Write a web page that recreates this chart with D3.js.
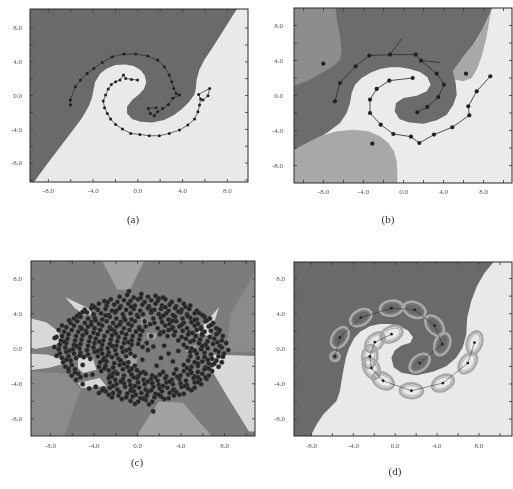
<!DOCTYPE html>
<html>
<head>
<meta charset="utf-8">
<script src="https://cdn.jsdelivr.net/npm/d3@7"></script>
<style>body{margin:0;background:#fff}</style>
</head>
<body>
<script>
// ---- shared labels ----
const tickValues = [-8, -4, 0, 4, 8];
const panelNames = ["(a)", "(b)", "(c)", "(d)"];

// ---- panel (a): two spirals + light class region ----
const aDarkSpiral = [[-5.99,-1.18],[-5.99,-0.59],[-5.54,0.99],[-5.09,1.78],[-4.49,2.57],[-3.89,3.16],[-3.14,3.87],[-2.23,4.54],[-1.19,4.86],[-0.14,4.86],[0.92,4.62],[1.82,4.15],[2.41,3.36],[2.86,2.37],[3.08,1.58],[3.26,0.79],[3.47,0.2],[3.77,0],[3.17,-0.39],[2.78,-1.11],[2.27,-1.58],[1.82,-1.97],[1.52,-2.45],[1.16,-2.17],[0.98,-1.58],[1.67,-1.5]];
const aLightSpiral = [[0.02,1.78],[-0.52,1.86],[-1.04,1.97],[-1.24,2.37],[-1.55,1.78],[-1.94,1.58],[-2.33,1.26],[-2.6,0.71],[-2.84,0],[-3.05,-0.71],[-2.93,-1.5],[-2.69,-2.17],[-2.39,-2.84],[-1.94,-3.48],[-1.33,-4.03],[-0.59,-4.54],[0.23,-4.66],[1.07,-4.82],[1.97,-4.82],[2.86,-4.54],[3.77,-4.15],[4.52,-3.55],[5.12,-2.84],[5.42,-1.97],[5.57,-1.18],[5.66,-0.47],[5.48,0.08],[6.47,0.79],[6.32,-0.08],[5.87,-0.59]];
const aLightRegion = [[-9.4,-10.6],[-8.58,-9.08],[-7.68,-7.5],[-6.77,-5.92],[-5.87,-4.35],[-4.97,-2.76],[-4.37,-1.38],[-4.07,-0.39],[-3.92,0.59],[-3.77,1.58],[-3.32,2.57],[-2.72,3.16],[-1.96,3.55],[-1.06,3.63],[-0.32,3.44],[0.29,2.96],[0.68,2.29],[0.8,1.5],[0.59,0.71],[0.14,0.08],[-0.47,-0.59],[-0.92,-1.38],[-0.92,-2.17],[-0.47,-2.84],[0.29,-3.16],[1.34,-3.24],[2.39,-2.96],[3.29,-2.37],[4.04,-1.58],[4.64,-0.79],[5.09,0],[5.24,0.79],[5.3,1.78],[5.54,2.96],[5.99,4.15],[6.59,5.33],[7.34,6.91],[8.09,8.49],[8.85,10.07],[9.2,10.8],[10.5,10.8],[10.5,-10.6]];

// ---- panel (b) ----
const bDarkSpiral = [[-6.8,-0.72],[-6.3,1.37],[-4.73,3.28],[-3.37,4.5],[-1.3,4.61],[1.27,4.61],[1.8,3.92],[3.37,2.44],[4.1,1.18],[3.53,-0.23],[2.43,-1.37],[1.43,-1.98]];
const bDarkSpurs = [[4, [-0.13,6.44]], [6, [3.7,3.73]]];
const bLightSpiral = [[0.97,1.94],[-1.37,1.64],[-2.63,0.69],[-3.3,-0.53],[-3.3,-2.06],[-2.23,-3.39],[-0.97,-4.46],[0.8,-4.76],[1.63,-5.49],[3.1,-4.53],[4.93,-3.69],[6.63,-2.32],[6.53,-1.29],[7.37,0.42],[8.73,2.13]];
const bOutliers = [[-7.97,3.58],[6.3,2.44],[-3.07,-5.57]];
const bRegions = [
  [[-11.5,10.5],[9.1,10.5],[8.7,9.37],[8.03,7.66],[7.03,5.75],[5.87,3.85],[5.03,2.71],[5.27,1.37],[5.37,0.04],[5.03,-1.11],[4.37,-2.25],[3.37,-2.89],[2.03,-3.28],[0.53,-3.12],[-0.37,-2.74],[-0.83,-1.87],[-0.7,-0.91],[0.03,-0.34],[1.37,-0.08],[2.37,0.42],[2.77,1.18],[2.43,2.06],[1.7,2.63],[0.7,2.97],[-0.3,3.16],[-1.3,3.16],[-2.3,2.97],[-3.3,2.51],[-4.13,1.94],[-4.8,1.18],[-5.13,0.23],[-5.3,-0.91],[-5.63,-2.06],[-6.3,-3.2],[-7.63,-4.34],[-9.3,-5.49],[-11.5,-6.9]],
  [[-11.5,10.5],[-6.8,10.5],[-6.63,8.61],[-6.3,6.7],[-6.13,5.18],[-6.3,4.04],[-6.97,3.28],[-8.13,2.51],[-9.3,1.75],[-11.5,0.8]],
  [[-11.5,-6.63],[-9.97,-5.68],[-8.3,-4.72],[-6.63,-4.15],[-4.97,-3.96],[-3.47,-4.15],[-2.3,-4.72],[-1.47,-5.49],[-0.9,-6.43],[-0.63,-7.58],[-0.57,-8.91],[-0.57,-10.5],[-11.5,-10.5]],
  [[4.97,2.71],[6.03,4.42],[7.37,6.29],[8.37,8.61],[8.87,9.75],[8.7,8.99],[8.37,6.7],[7.87,4.42],[7.37,2.89],[6.87,1.94],[6.03,1.56],[5.2,1.75]]
];
const bRegionShade = [1, 2, 3, 3];

// ---- panel (c) ----
const cRegions = [
  [[-3.43,10.5],[0.86,10.5],[-0.67,6.7],[-1.81,6.7]],
  [[11.2,9.5],[8.55,3.8],[8.25,-0.4],[11.2,-0.4]],
  [[-10.2,-2.6],[-6.5,-2.9],[-5.2,-4.7],[-6.8,-10.5],[-10.2,-10.5]],
  [[-0.3,-10.5],[7.2,-10.5],[4.2,-6.2],[2.0,-6.1]],
  [[-6.59,5.83],[-4.51,4.61],[-4.05,3.84],[-4.81,3.77],[-5.73,4.61]],
  [[-10.2,3.54],[-8.34,2.98],[-7.26,1.94],[-6.9,0.98],[-7.57,0.34],[-10.2,-0.27]],
  [[-10.2,-0.54],[-8.18,-0.73],[-6.96,-1.22],[-6.8,-1.79],[-8.18,-2.25],[-10.2,-2.56]],
  [[-5.43,-1.11],[-4.05,-1.11],[-3.74,-2.45],[-4.97,-2.82],[-5.43,-2.25]],
  [[-5.43,-3.97],[-3.43,-3.39],[-2.82,-4.34],[-5.12,-4.54]],
  [[5.45,1.75],[7.54,4.69],[6.69,1.37]],
  [[6.7,-1.5],[7.1,-0.7],[11.2,-0.9],[11.2,-9.5],[10.3,-9.5],[8.4,-5.7],[7.0,-2.8]],
  [[0.4,3.4],[1.0,3.4],[1.05,2.8],[0.4,2.8]],
  [[0.9,1.8],[1.8,1.7],[1.7,1.0],[0.9,1.1]],
  [[4.5,0.4],[5.5,0.35],[5.4,-0.4],[4.5,-0.4]],
  [[-1.0,-0.6],[0.1,-0.85],[-0.15,-2.1],[-1.0,-1.8]]
];
const cRegionShade = [2, 1, 1, 2, 3, 3, 3, 3, 3, 3, 3, 2, 2, 2, 2];
const cPoints = [
  [-0.74,6.51],[-1.6,5.9],[-0.9,6.1],[-0.3,5.8],[0.4,6.2],[1.0,5.9],[1.7,6.0],[2.4,5.8],
  [-3.0,5.4],[-2.4,5.6],[-1.8,5.3],[-1.2,5.5],[-0.6,5.4],[0.1,5.6],[0.7,5.3],[1.3,5.5],[1.9,5.4],[2.6,5.6],[3.2,5.3],[3.9,5.5],
  [-4.1,4.9],[-3.5,5.1],[-2.8,4.9],[-2.1,5.0],[-1.5,4.8],[-0.8,5.1],[-0.2,4.9],[0.5,5.0],[1.1,4.8],[1.7,5.1],[2.3,4.9],[3.0,5.0],[3.6,4.8],[4.3,5.1],[4.9,4.9],
  [-4.8,4.4],[-4.2,4.6],[-3.6,4.4],[-2.9,4.5],[-2.3,4.3],[-1.6,4.6],[-1.0,4.4],[-0.3,4.5],[0.3,4.3],[1.0,4.6],[1.6,4.4],[2.2,4.5],[2.9,4.3],[3.5,4.6],[4.1,4.4],[4.8,4.5],[5.5,4.3],
  [-5.3,3.9],[-4.6,4.1],[-4.0,3.9],[-3.3,4.0],[-2.6,3.8],[-2.0,4.1],[-1.3,3.9],[-0.6,4.0],[0.0,3.8],[1.3,4.1],[2.0,3.9],[2.7,4.0],[3.3,3.8],[4.0,4.1],[4.6,3.9],[5.3,4.0],[6.0,3.8],
  [-5.8,3.4],[-5.2,3.6],[-4.5,3.4],[-3.9,3.5],[-3.2,3.3],[-2.5,3.6],[-1.9,3.4],[-1.2,3.5],[-0.5,3.3],[0.1,3.6],[1.5,3.4],[2.2,3.5],[2.9,3.3],[3.5,3.6],[4.2,3.4],[4.9,3.5],[5.5,3.3],[6.2,3.6],[6.7,3.4],
  [-6.1,2.9],[-5.5,3.1],[-4.8,2.9],[-4.2,3.0],[-3.5,2.8],[-2.8,3.1],[-2.2,2.9],[-1.5,3.0],[-0.8,2.8],[-0.2,3.1],[0.71,3.08],[1.6,2.9],[2.3,3.0],[3.0,2.8],[3.6,3.1],[4.3,2.9],[5.0,3.0],[5.6,2.8],[6.3,3.1],[7.0,2.9],
  [-6.5,2.4],[-5.8,2.6],[-5.2,2.4],[-4.5,2.5],[-3.9,2.3],[-3.2,2.6],[-2.5,2.4],[-1.9,2.5],[-1.2,2.3],[-0.5,2.6],[0.2,2.4],[0.8,2.5],[1.9,2.3],[2.6,2.6],[3.3,2.4],[3.9,2.5],[4.6,2.3],[5.3,2.6],[5.9,2.4],[6.6,2.5],[7.3,2.3],
  [-6.7,1.9],[-6.0,2.1],[-5.4,1.9],[-4.7,2.0],[-4.0,1.8],[-3.4,2.1],[-2.7,1.9],[-2.1,2.0],[-1.4,1.8],[-0.7,2.1],[-0.1,1.9],[0.5,2.0],[2.2,1.8],[2.9,2.1],[3.5,1.9],[4.2,2.0],[4.8,1.8],[5.5,2.1],[6.2,1.9],[6.8,2.0],[7.5,1.8],
  [-6.9,1.4],[-6.3,1.6],[-5.6,1.4],[-5.0,1.5],[-4.3,1.3],[-3.6,1.6],[-3.0,1.4],[-2.3,1.5],[-1.7,1.3],[-1.0,1.6],[-0.4,1.4],[0.3,1.5],[1.3,1.4],[2.1,1.6],[2.8,1.4],[3.4,1.5],[4.1,1.3],[4.7,1.6],[5.4,1.4],[6.0,1.5],[6.7,1.3],[7.3,1.6],[7.9,1.4],
  [-7.0,0.9],[-6.4,1.1],[-5.7,0.9],[-5.1,1.0],[-4.4,0.8],[-3.8,1.1],[-3.1,0.9],[-2.4,1.0],[-1.8,0.8],[-1.1,1.1],[-0.5,0.9],[0.2,1.0],[3.8,0.9],[4.5,1.1],[5.2,0.9],[5.8,1.0],[6.5,0.8],[7.1,1.1],[7.8,0.9],
  [-7.1,0.4],[-6.5,0.6],[-5.8,0.4],[-5.2,0.5],[-4.5,0.3],[-3.9,0.6],[-3.2,0.4],[-2.5,0.5],[-1.9,0.3],[-1.2,0.6],[-0.5,0.4],[0.1,0.5],[4.3,0.4],[5.7,0.6],[6.3,0.4],[7.0,0.5],[7.6,0.3],[8.2,0.6],
  [-7.2,-0.1],[-6.6,0.1],[-5.9,-0.1],[-5.3,0.0],[-4.6,-0.2],[-4.0,0.1],[-3.3,-0.1],[-2.7,0.0],[-2.0,-0.2],[-1.4,0.1],[-0.7,-0.1],[5.0,0.0],[4.6,0.1],[5.9,-0.1],[6.5,0.0],[7.2,-0.2],[7.8,0.1],
  [-7.1,-0.6],[-6.5,-0.4],[-5.8,-0.6],[-5.2,-0.5],[-4.5,-0.7],[-3.9,-0.4],[-3.2,-0.6],[-2.6,-0.5],[-1.9,-0.7],[-1.3,-0.4],[-0.6,-0.6],[4.9,-0.4],[5.5,-0.6],[6.2,-0.5],[6.8,-0.7],[7.5,-0.4],[8.0,-0.6],
  [-6.9,-1.1],[-6.3,-0.9],[-5.6,-1.1],[-4.9,-1.0],[-4.3,-1.2],[-3.6,-0.9],[-3.0,-1.1],[-2.3,-1.0],[-1.7,-1.2],[-1.0,-0.9],[4.9,-0.9],[5.6,-1.1],[6.2,-1.0],[6.9,-1.2],[7.5,-0.9],
  [-6.8,-1.6],[-6.1,-1.4],[-5.0,-1.9],[-3.4,-1.6],[-2.8,-1.5],[-2.1,-1.7],[-1.5,-1.4],[-0.8,-1.6],[4.7,-1.4],[5.3,-1.6],[6.0,-1.5],[6.6,-1.7],[7.3,-1.4],[7.8,-1.6],
  [-6.6,-2.1],[-6.0,-1.9],[-3.5,-2.1],[-2.9,-2.0],[-2.2,-2.2],[-1.6,-1.9],[-0.9,-2.1],[-0.2,-2.0],[4.3,-1.9],[5.0,-2.1],[5.6,-2.0],[6.3,-2.2],[6.9,-1.9],[7.5,-2.1],
  [-6.3,-2.6],[-5.7,-2.4],[-3.3,-2.6],[-2.6,-2.5],[-2.0,-2.7],[-1.3,-2.4],[-0.7,-2.6],[0.0,-2.5],[0.6,-2.7],[3.6,-2.4],[4.3,-2.6],[4.9,-2.5],[5.6,-2.7],[6.2,-2.4],[6.9,-2.6],
  [-6.0,-3.1],[-5.4,-2.9],[-4.7,-3.1],[-4.1,-3.0],[-2.5,-3.1],[-1.8,-2.9],[-1.2,-3.1],[-0.5,-3.0],[0.1,-3.2],[0.8,-2.9],[1.4,-3.1],[2.1,-3.0],[2.7,-3.2],[3.4,-2.9],[4.0,-3.1],[4.7,-3.0],[5.3,-3.2],[6.0,-2.9],[6.6,-3.1],
  [-5.6,-3.6],[-2.6,-3.4],[-2.0,-3.6],[-1.3,-3.5],[-0.7,-3.7],[0.0,-3.4],[0.6,-3.6],[1.3,-3.5],[1.9,-3.7],[2.6,-3.4],[3.2,-3.6],[3.9,-3.5],[4.5,-3.7],[5.2,-3.4],[5.8,-3.6],[6.4,-3.5],
  [-5.0,-4.1],[-2.5,-3.9],[-1.9,-4.1],[-1.2,-4.0],[-0.6,-4.2],[0.1,-3.9],[0.7,-4.1],[1.4,-4.0],[2.0,-4.2],[2.7,-3.9],[3.3,-4.1],[4.0,-4.0],[4.6,-4.2],[5.3,-3.9],[5.9,-4.1],
  [-4.4,-4.6],[-3.8,-4.4],[-3.1,-4.6],[-2.5,-4.5],[-1.8,-4.7],[-1.1,-4.4],[-0.5,-4.6],[0.2,-4.5],[0.8,-4.7],[1.5,-4.4],[2.1,-4.6],[2.8,-4.5],[3.4,-4.7],[4.1,-4.4],[4.7,-4.6],[5.3,-4.5],
  [-3.5,-5.1],[-2.9,-4.9],[-2.2,-5.1],[-1.6,-5.0],[-0.9,-5.2],[-0.3,-4.9],[0.4,-5.1],[1.0,-5.0],[1.7,-5.2],[2.3,-4.9],[3.0,-5.1],[3.6,-5.0],[4.3,-5.2],
  [-2.3,-5.6],[-1.7,-5.4],[-1.0,-5.6],[-0.4,-5.5],[0.3,-5.7],[0.9,-5.4],[1.6,-5.6],[2.2,-5.5],[2.9,-5.7],[3.4,-5.4],
  [-0.6,-6.0],[0.1,-6.1],[0.8,-5.9],[1.4,-6.1],
  [-7.57,1.18],[1.49,-7.2],[5.98,1.63],[-4.81,4.23],[1.0,-0.2],[2.5,0.3],[3.3,-1.5],[1.8,-2.0],[2.9,-0.6]
];
// second pass of dots read between the rows above
const cPointsFill = [
  [-2.7,5.25],[0.35,5.75],[2.0,5.7],[-3.9,4.7],[-0.55,4.75],[2.6,4.7],[4.45,4.75],[-5.0,4.15],[-1.9,4.3],[1.35,4.35],
  [3.8,4.2],[5.7,4.05],[-5.5,3.7],[-2.9,3.75],[0.55,3.9],[2.45,3.75],[4.65,3.7],[6.45,3.2],[-6.25,3.2],[-3.8,3.2],
  [-1.1,3.25],[3.25,3.15],[5.3,3.25],[-6.9,2.6],[-4.2,2.7],[-1.6,2.7],[1.2,2.75],[4.1,2.7],[6.8,2.65],[-7.2,2.1],
  [-5.1,2.25],[-2.4,2.2],[0.2,2.2],[3.2,2.25],[5.9,2.2],[-7.4,1.3],[-4.65,1.75],[-1.95,1.7],[2.45,1.9],[5.1,1.75],
  [7.6,2.1],[-6.7,0.75],[-3.45,0.75],[-0.8,0.7],[4.9,0.75],[7.4,0.7],[-7.6,0.15],[-5.55,0.25],[-2.25,0.25],[0.5,0.15],
  [6.0,0.25],[8.4,-0.2],[-6.2,-0.25],[-3.6,-0.3],[-1.0,-0.25],[5.3,-0.25],[7.9,-0.95],[-7.4,-0.85],[-5.25,-0.8],[-2.7,-0.8],
  [-0.2,-0.9],[6.5,-1.3],[-6.5,-1.3],[-3.1,-1.35],[-1.2,-1.75],[5.6,-1.75],[7.1,-1.75],[-6.3,-2.35],[-3.0,-2.3],[-0.5,-2.35],
  [4.6,-2.25],[6.6,-2.3],[-5.7,-2.75],[-2.2,-2.85],[0.3,-2.85],[2.4,-2.7],[5.0,-2.8],[6.3,-3.3],[-5.2,-3.3],[-2.3,-3.25],
  [-0.3,-3.3],[1.7,-3.3],[3.7,-3.25],[5.6,-3.3],[-1.5,-3.8],[1.0,-3.8],[3.0,-3.8],[5.6,-3.85],[-2.2,-4.3],[-0.2,-4.3],
  [2.4,-4.3],[4.4,-4.3],[-3.2,-4.8],[-0.6,-4.85],[1.3,-4.8],[3.3,-4.8],[5.0,-4.8],[-2.6,-5.3],[-0.1,-5.3],[2.0,-5.3],
  [3.9,-5.3],[-1.4,-5.8],[0.6,-5.75],[2.5,-5.8],[-0.2,-6.35],[1.1,-6.4],[0.5,-1.3],[1.5,0.2],[3.8,-0.3],[2.2,-1.1],[0.9,0.6]
];

// ---- panel (d) ----
const dDarkSpiral = [[-5.71,-0.93],[-5.24,1.23],[-3.24,3.5],[-0.32,4.57],[1.9,4.38],[3.81,2.59],[4.54,0.48],[2.38,-1.68]];
const dLightSpiral = [[-0.31,1.61],[-1.9,0.7],[-2.38,-0.93],[-2.22,-2.25],[-1.11,-3.69],[1.59,-4.83],[4.6,-3.95],[6.98,-1.68],[7.62,0.66]];
const dLightRegion = [[-8.2,-10.4],[-7.46,-8.66],[-6.83,-7.52],[-6.19,-6.76],[-5.56,-6.0],[-5.24,-4.86],[-4.98,-2.98],[-4.67,-1.08],[-4.35,0.06],[-3.87,1.19],[-3.24,1.95],[-2.38,2.52],[-1.43,2.78],[-0.48,2.78],[0.48,2.52],[1.27,2.02],[1.74,1.27],[1.49,0.63],[0.64,0.32],[0,-0.25],[-0.32,-1.08],[-0.1,-2.14],[0.64,-2.78],[2.07,-3.05],[3.65,-2.67],[4.92,-2.03],[5.87,-1.08],[6.5,0.13],[6.83,1.57],[6.92,3.47],[7.3,5.36],[7.84,7.07],[8.57,8.58],[9.36,9.72],[9.8,10.4],[11.6,10.4],[11.6,-10.4]];

// ---- drawing ----
const W = 513, H = 489;
const serif = "'Liberation Serif', 'DejaVu Serif', serif";
const root = d3.select("body").append("svg")
    .attr("width", W)
    .attr("height", H)
    .style("background", "#fff");

// the reference is a soft scan, so everything gets a light blur
root.append("defs").append("filter").attr("id", "soft")
    .attr("x", 0).attr("y", 0).attr("width", 1).attr("height", 1)
    .append("feGaussianBlur").attr("stdDeviation", 0.45);
const svg = root.append("g").attr("filter", "url(#soft)");
svg.append("rect").attr("width", W).attr("height", H).attr("fill", "#fff");

const darkGrey = "#6a6a6a", lightGrey = "#e9e9e9";

function setupPanel(key, box, xDom, yDom) {
    const x = d3.scaleLinear().domain(xDom).range([box.l, box.r]);
    const y = d3.scaleLinear().domain(yDom).range([box.b, box.t]);
    root.select("defs").append("clipPath").attr("id", "clip-" + key)
        .append("rect")
        .attr("x", box.l).attr("y", box.t)
        .attr("width", box.r - box.l).attr("height", box.b - box.t);
    const g = svg.append("g").attr("clip-path", `url(#clip-${key})`);
    const line = d3.line().x(d => x(d[0])).y(d => y(d[1]));
    return {key, box, x, y, g, line};
}

function fillPlot(p, color) {
    p.g.append("rect")
        .attr("x", p.box.l).attr("y", p.box.t)
        .attr("width", p.box.r - p.box.l).attr("height", p.box.b - p.box.t)
        .attr("fill", color);
}

function drawRegion(p, pts, color) {
    p.g.append("path").attr("d", p.line(pts) + "Z").attr("fill", color);
}

function drawChain(p, pts, r, width) {
    p.g.append("path").attr("d", p.line(pts))
        .attr("fill", "none").attr("stroke", "#2b2b2b").attr("stroke-width", width);
    p.g.selectAll(null).data(pts).enter().append("circle")
        .attr("cx", d => p.x(d[0])).attr("cy", d => p.y(d[1]))
        .attr("r", r).attr("fill", "#222");
}

function drawAxes(p, padX, padY, label, labelPos) {
    const {x, y, box} = p;
    const xd = x.domain(), yd = y.domain();
    const minorX = d3.range(-10, 12, 2).filter(v => v > xd[0] + 0.2 && v < xd[1] - 0.2);
    const minorY = d3.range(-10, 12, 2).filter(v => v > yd[0] + 0.2 && v < yd[1] - 0.2);
    const clean = g => {
        g.select(".domain").remove();
        g.selectAll("line").attr("stroke", "#333").attr("stroke-width", 0.8);
    };
    // inward ticks on every side
    svg.append("g").attr("transform", `translate(0,${box.b})`)
        .call(d3.axisTop(x).tickValues(minorX).tickSize(3).tickFormat("")).call(clean);
    svg.append("g").attr("transform", `translate(0,${box.t})`)
        .call(d3.axisBottom(x).tickValues(minorX).tickSize(3).tickFormat("")).call(clean);
    svg.append("g").attr("transform", `translate(${box.l},0)`)
        .call(d3.axisRight(y).tickValues(minorY).tickSize(3).tickFormat("")).call(clean);
    svg.append("g").attr("transform", `translate(${box.r},0)`)
        .call(d3.axisLeft(y).tickValues(minorY).tickSize(3).tickFormat("")).call(clean);

    // tick labels
    const styleText = g => {
        g.select(".domain").remove();
        g.attr("font-size", 7);
        g.selectAll("text").style("font-family", serif).attr("fill", "#555");
    };
    svg.append("g").attr("transform", `translate(0,${box.b})`)
        .call(d3.axisBottom(x).tickValues(tickValues).tickSize(0).tickPadding(padX)
            .tickFormat(d => d.toFixed(1)))
        .call(styleText);
    svg.append("g").attr("transform", `translate(${box.l},0)`)
        .call(d3.axisLeft(y).tickValues(tickValues).tickSize(0).tickPadding(padY)
            .tickFormat(d => d.toFixed(1)))
        .call(styleText);

    // frame
    svg.append("rect")
        .attr("x", box.l).attr("y", box.t)
        .attr("width", box.r - box.l).attr("height", box.b - box.t)
        .attr("fill", "none").attr("stroke", "#2a2a2a").attr("stroke-width", 1);

    svg.append("text")
        .attr("x", labelPos[0]).attr("y", labelPos[1])
        .attr("text-anchor", "middle")
        .style("font-family", serif).attr("font-size", 11)
        .attr("fill", "#333")
        .text(label);
}

// (a)
const pa = setupPanel("a", {l: 30, r: 248, t: 9, b: 182}, [-9.6, 9.9], [-10.3, 10.2]);
fillPlot(pa, darkGrey);
drawRegion(pa, aLightRegion, lightGrey);
drawChain(pa, aDarkSpiral, 1.5, 0.7);
drawChain(pa, aLightSpiral, 1.5, 0.7);
drawAxes(pa, 6, 8, panelNames[0], [133, 223]);

// (b)
const bShade = d3.scaleOrdinal().domain([0, 1, 2, 3])
    .range(["#ebebeb", "#6c6c6c", "#8d8d8d", "#a8a8a8"]);
const pb = setupPanel("b", {l: 294, r: 512, t: 8, b: 183}, [-10.9, 10.9], [-10.06, 9.94]);
fillPlot(pb, bShade(0));
bRegions.forEach((poly, i) => drawRegion(pb, poly, bShade(bRegionShade[i])));
bDarkSpurs.forEach(([i, pt]) => {
    pb.g.append("path").attr("d", pb.line([bDarkSpiral[i], pt]))
        .attr("stroke", "#2b2b2b").attr("stroke-width", 0.8).attr("fill", "none");
});
drawChain(pb, bDarkSpiral, 2.1, 0.8);
drawChain(pb, bLightSpiral, 2.1, 0.8);
pb.g.selectAll(".outlier").data(bOutliers).enter().append("circle")
    .attr("cx", d => pb.x(d[0])).attr("cy", d => pb.y(d[1]))
    .attr("r", 2.1).attr("fill", "#222");
drawAxes(pb, 6, 11, panelNames[1], [388, 223]);

// (c)
const cShade = d3.scaleOrdinal().domain([0, 1, 2, 3])
    .range(["#7b7b7b", "#8b8b8b", "#a2a2a2", "#d8d8d8"]);
const pc = setupPanel("c", {l: 31, r: 255, t: 261, b: 436}, [-9.75, 10.85], [-10.02, 9.98]);
fillPlot(pc, cShade(0));
cRegions.forEach((poly, i) => drawRegion(pc, poly, cShade(cRegionShade[i])));
pc.g.selectAll(".pt").data(cPoints.concat(cPointsFill)).enter().append("circle")
    .attr("cx", d => pc.x(d[0])).attr("cy", d => pc.y(d[1]))
    .attr("r", 2.3).attr("fill", "#262626")
    .attr("stroke", "#505050").attr("stroke-width", 0.4);
drawAxes(pc, 7, 9, panelNames[2], [137, 466]);

// (d)
const pd = setupPanel("d", {l: 294, r: 512, t: 262, b: 436}, [-9.62, 11.2], [-9.98, 9.83]);
fillPlot(pd, darkGrey);
drawRegion(pd, dLightRegion, lightGrey);

function drawEllipses(p, pts, firstSmall) {
    pts.forEach((d, i) => {
        const a = pts[Math.max(i - 1, 0)], b = pts[Math.min(i + 1, pts.length - 1)];
        const ang = Math.atan2(p.y(b[1]) - p.y(a[1]), p.x(b[0]) - p.x(a[0])) * 180 / Math.PI;
        const small = firstSmall && i === 0;
        const rx = small ? 4.5 : 11.5, ry = small ? 4.5 : 7.5;
        const g = p.g.append("g")
            .attr("transform", `translate(${p.x(d[0])},${p.y(d[1])}) rotate(${ang})`);
        g.append("ellipse").attr("rx", rx).attr("ry", ry)
            .attr("fill", "none").attr("stroke", "#a9a9a9").attr("stroke-width", 2.6);
        g.append("ellipse").attr("rx", rx - 2.4).attr("ry", ry - 2.4)
            .attr("fill", "none").attr("stroke", "#8a8a8a").attr("stroke-width", 0.6);
    });
}
drawEllipses(pd, dDarkSpiral, true);
drawEllipses(pd, dLightSpiral, false);
drawChain(pd, dDarkSpiral, 1.4, 0.5);
drawChain(pd, dLightSpiral, 1.4, 0.5);
drawAxes(pd, 7, 9, panelNames[3], [395, 475]);
</script>
</body>
</html>
